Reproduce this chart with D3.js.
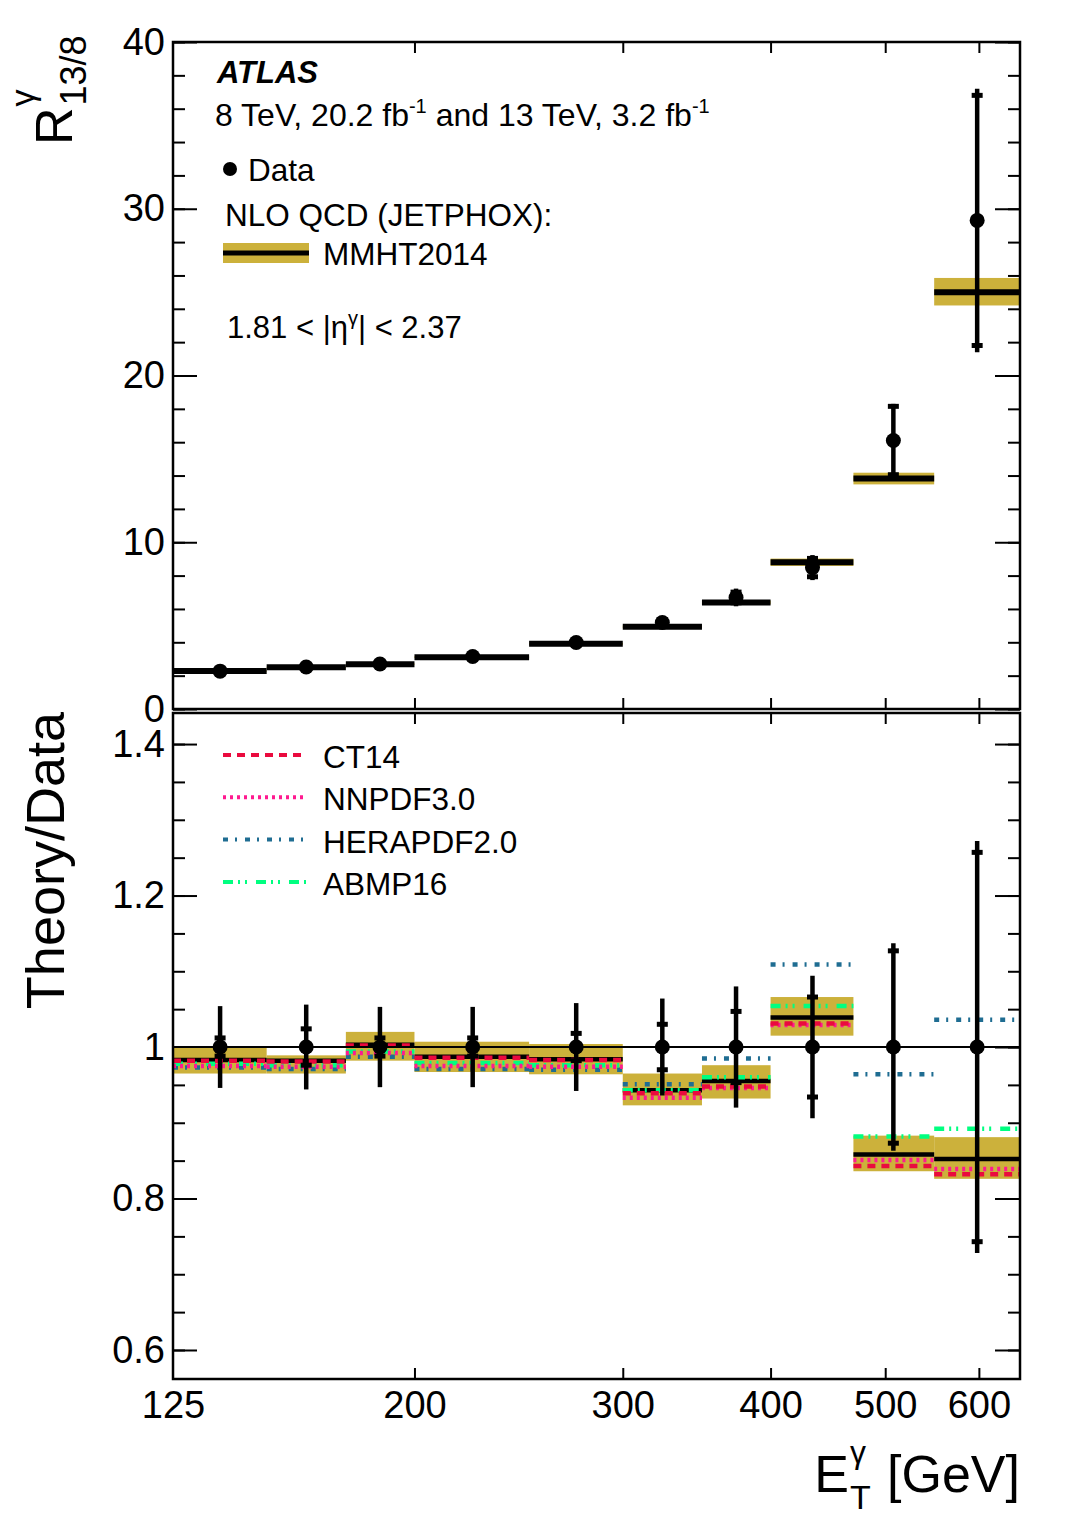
<!DOCTYPE html>
<html>
<head>
<meta charset="utf-8">
<script src="https://cdn.jsdelivr.net/npm/d3@7"></script>
<style>
  body { margin: 0; background: #fff; }
  svg text { font-family: "Liberation Sans", Arial, Helvetica, sans-serif; fill: #000; }
</style>
</head>
<body>
<div id="chart"></div>
<script>
// binning in E_T (GeV) and the points' positions
var etEdges = [125, 150, 175, 200, 250, 300, 350, 400, 470, 550, 650];
var etCentres = [137, 162, 187, 224, 274, 324, 374, 434, 508, 598];
var xLabelValues = [125, 200, 300, 400, 500, 600];
var xTickValues = [200, 300, 400, 500, 600];

// upper panel : R 13/8
var rData = [2.27, 2.52, 2.70, 3.15, 3.99, 5.19, 6.69, 8.48, 16.1, 29.3];
var rTotErr = [0.12, 0.14, 0.14, 0.17, 0.23, 0.33, 0.53, 0.75, 2.2, 7.9];
var rStatErr = [0.03, 0.06, 0.03, 0.04, 0.07, 0.16, 0.32, 0.55, 2.05, 7.5];
var rMmht = [2.28, 2.50, 2.69, 3.11, 3.91, 4.93, 6.39, 8.80, 13.83, 25.0];
var rMmhtLo = [2.24, 2.46, 2.65, 3.06, 3.85, 4.85, 6.28, 8.58, 13.47, 24.2];
var rMmhtHi = [2.32, 2.54, 2.73, 3.16, 3.97, 5.01, 6.50, 9.02, 14.17, 25.85];

// lower panel : theory / data
var dataErrTot = [0.054, 0.056, 0.053, 0.053, 0.058, 0.064, 0.080, 0.094, 0.137, 0.272];
var dataErrStat = [0.012, 0.024, 0.012, 0.012, 0.018, 0.030, 0.047, 0.066, 0.127, 0.257];
var mmhtRatio = [0.983, 0.982, 1.003, 0.987, 0.984, 0.943, 0.955, 1.039, 0.858, 0.852];
var mmhtRatioLo = [0.965, 0.965, 0.982, 0.967, 0.964, 0.923, 0.932, 1.015, 0.836, 0.826];
var mmhtRatioHi = [1.000, 0.989, 1.020, 1.007, 1.004, 0.965, 0.976, 1.066, 0.883, 0.881];
var ct14Ratio = [0.982, 0.981, 1.002, 0.986, 0.983, 0.939, 0.948, 1.031, 0.843, 0.832];
var nnpdfRatio = [0.975, 0.974, 0.992, 0.975, 0.974, 0.933, 0.946, 1.029, 0.851, 0.839];
var heraRatio = [0.973, 0.971, 0.987, 0.971, 0.970, 0.951, 0.985, 1.109, 0.964, 1.036];
var abmpRatio = [0.978, 0.976, 0.994, 0.979, 0.976, 0.943, 0.960, 1.054, 0.882, 0.892];

var topMajor = [0, 10, 20, 30, 40];
var botMajor = [0.6, 0.8, 1, 1.2, 1.4];

var gold = '#ccb13b';
var pdfs = [
  {name: 'CT14', vals: ct14Ratio, color: '#ea0a3e', dash: '8,6'},
  {name: 'NNPDF3.0', vals: nnpdfRatio, color: '#ff1a90', dash: '3,4'},
  {name: 'HERAPDF2.0', vals: heraRatio, color: '#1f6d92', dash: '5,7,2,8'},
  {name: 'ABMP16', vals: abmpRatio, color: '#00ff80', dash: '10,5,2,5,2,9'}
];
// drawing order inside the ratio panel
var drawOrder = [2, 3, 1, 0];

var W = 1075, H = 1536;
var left = 173, right = 1020;
var topPanel = {y0: 42, y1: 709};
var botPanel = {y0: 713, y1: 1379};
var txt = '31.5px';

var svg = d3.select('#chart').append('svg')
  .attr('width', W).attr('height', H)
  .attr('viewBox', [0, 0, W, H]);

var x = d3.scaleLog().domain([125, 650]).range([left, right]);
var yTop = d3.scaleLinear().domain([0, 40]).range([topPanel.y1, topPanel.y0]);
var yBot = d3.scaleLinear().domain([0.5617, 1.441]).range([botPanel.y1, botPanel.y0]);

var bins = d3.range(etCentres.length);

// ---------- axes ----------
function drawAxes(y, panel, major, minor, fmt, xLabels) {
  var g = svg.append('g').attr('class', 'axes');
  g.append('g').attr('transform', 'translate(' + left + ',0)')
    .call(d3.axisLeft(y).tickValues(minor).tickSize(-12).tickFormat(''));
  g.append('g').attr('class', 'ylab').attr('transform', 'translate(' + left + ',0)')
    .call(d3.axisLeft(y).tickValues(major).tickSize(-24).tickPadding(8).tickFormat(fmt));
  g.append('g').attr('transform', 'translate(' + right + ',0)')
    .call(d3.axisRight(y).tickValues(minor).tickSize(-12).tickFormat(''));
  g.append('g').attr('transform', 'translate(' + right + ',0)')
    .call(d3.axisRight(y).tickValues(major).tickSize(-25).tickFormat(''));
  g.append('g').attr('transform', 'translate(0,' + panel.y0 + ')')
    .call(d3.axisTop(x).tickValues(xTickValues).tickSize(-11).tickFormat(''));
  var xb = g.append('g').attr('class', 'xlab').attr('transform', 'translate(0,' + panel.y1 + ')')
    .call(d3.axisBottom(x).tickValues(xLabels ? xLabelValues : xTickValues)
      .tickSize(-11).tickPadding(12).tickFormat(xLabels ? d3.format('d') : ''));
  if (xLabels) {
    xb.selectAll('.tick').filter(function(d) { return d === 125; }).select('line').remove();
  }
  g.selectAll('path.domain').remove();
  g.selectAll('.tick line').style('stroke', '#000').style('stroke-width', '2px');
  g.selectAll('.tick text').style('font-size', '38px').style('fill', '#000')
    .attr('font-family', '"Liberation Sans", Arial, sans-serif');
  g.selectAll('.xlab .tick text').attr('dy', '0.72em');
}

drawAxes(yTop, topPanel, topMajor, d3.range(0, 41, 2), d3.format('d'), false);
drawAxes(yBot, botPanel, botMajor, d3.range(0.6, 1.42, 0.05), function(d) { return String(+d.toFixed(2)); }, true);

// ---------- upper panel ----------
var up = svg.append('g');
up.selectAll('rect.band').data(bins).enter().append('rect')
  .attr('class', 'band')
  .attr('x', function(i) { return x(etEdges[i]); })
  .attr('width', function(i) { return x(etEdges[i + 1]) - x(etEdges[i]); })
  .attr('y', function(i) { return yTop(rMmhtHi[i]); })
  .attr('height', function(i) { return yTop(rMmhtLo[i]) - yTop(rMmhtHi[i]); })
  .style('fill', gold);

up.selectAll('line.mmht').data(bins).enter().append('line')
  .attr('class', 'mmht')
  .attr('x1', function(i) { return x(etEdges[i]); })
  .attr('x2', function(i) { return x(etEdges[i + 1]); })
  .attr('y1', function(i) { return yTop(rMmht[i]); })
  .attr('y2', function(i) { return yTop(rMmht[i]); })
  .style('stroke', '#000').style('stroke-width', '6px');

function drawPoints(g, y, vals, tot, stat) {
  g.selectAll('line.err').data(bins).enter().append('line')
    .attr('class', 'err')
    .attr('x1', function(i) { return x(etCentres[i]); })
    .attr('x2', function(i) { return x(etCentres[i]); })
    .attr('y1', function(i) { return y(vals(i) + tot[i]); })
    .attr('y2', function(i) { return y(vals(i) - tot[i]); })
    .style('stroke', '#000').style('stroke-width', '4.5px');
  [1, -1].forEach(function(s) {
    g.selectAll('line.stat' + s).data(bins).enter().append('line')
      .attr('class', 'stat' + s)
      .attr('x1', function(i) { return x(etCentres[i]) - 5.5; })
      .attr('x2', function(i) { return x(etCentres[i]) + 5.5; })
      .attr('y1', function(i) { return y(vals(i) + s * stat[i]); })
      .attr('y2', function(i) { return y(vals(i) + s * stat[i]); })
      .style('stroke', '#000').style('stroke-width', '5px');
  });
  g.selectAll('circle.pt').data(bins).enter().append('circle')
    .attr('class', 'pt')
    .attr('cx', function(i) { return x(etCentres[i]); })
    .attr('cy', function(i) { return y(vals(i)); })
    .attr('r', 7.5)
    .style('fill', '#000');
}

drawPoints(up, yTop, function(i) { return rData[i]; }, rTotErr, rStatErr);

// ---------- lower panel ----------
var lo = svg.append('g');
lo.selectAll('rect.band').data(bins).enter().append('rect')
  .attr('class', 'band')
  .attr('x', function(i) { return x(etEdges[i]); })
  .attr('width', function(i) { return x(etEdges[i + 1]) - x(etEdges[i]); })
  .attr('y', function(i) { return yBot(mmhtRatioHi[i]); })
  .attr('height', function(i) { return yBot(mmhtRatioLo[i]) - yBot(mmhtRatioHi[i]); })
  .style('fill', gold);

lo.selectAll('line.mmht').data(bins).enter().append('line')
  .attr('class', 'mmht')
  .attr('x1', function(i) { return x(etEdges[i]); })
  .attr('x2', function(i) { return x(etEdges[i + 1]); })
  .attr('y1', function(i) { return yBot(mmhtRatio[i]); })
  .attr('y2', function(i) { return yBot(mmhtRatio[i]); })
  .style('stroke', '#000').style('stroke-width', '4.5px');

drawOrder.forEach(function(k) {
  var p = pdfs[k];
  lo.selectAll('line.pdf' + k).data(bins).enter().append('line')
    .attr('class', 'pdf' + k)
    .attr('x1', function(i) { return x(etEdges[i]); })
    .attr('x2', function(i) { return x(etEdges[i + 1]); })
    .attr('y1', function(i) { return yBot(p.vals[i]); })
    .attr('y2', function(i) { return yBot(p.vals[i]); })
    .style('stroke', p.color).style('stroke-width', '4.5px')
    .style('stroke-dasharray', p.dash);
});

lo.append('line')
  .attr('x1', left).attr('x2', right)
  .attr('y1', yBot(1)).attr('y2', yBot(1))
  .style('stroke', '#000').style('stroke-width', '2px');

drawPoints(lo, yBot, function() { return 1; }, dataErrTot, dataErrStat);

// frames
[topPanel, botPanel].forEach(function(p) {
  svg.append('rect')
    .attr('x', left).attr('y', p.y0)
    .attr('width', right - left).attr('height', p.y1 - p.y0)
    .style('fill', 'none').style('stroke', '#000').style('stroke-width', '2.5px');
});

// ---------- legends and labels ----------
svg.append('text').attr('x', 217).attr('y', 83)
  .style('font-size', '31px').style('font-weight', 'bold').style('font-style', 'italic')
  .text('ATLAS');

var lumi = svg.append('text').attr('x', 215).attr('y', 126).style('font-size', '32px');
lumi.append('tspan').text('8 TeV, 20.2 fb');
lumi.append('tspan').attr('dy', -13).style('font-size', '20px').text('-1');
lumi.append('tspan').attr('dy', 13).text(' and 13 TeV, 3.2 fb');
lumi.append('tspan').attr('dy', -13).style('font-size', '20px').text('-1');

svg.append('circle').attr('cx', 230).attr('cy', 169).attr('r', 7).style('fill', '#000');
svg.append('text').attr('x', 248).attr('y', 181).style('font-size', txt).text('Data');

svg.append('text').attr('x', 225).attr('y', 226).style('font-size', txt).text('NLO QCD (JETPHOX):');
svg.append('rect').attr('x', 223).attr('y', 243).attr('width', 86).attr('height', 20).style('fill', gold);
svg.append('line').attr('x1', 223).attr('x2', 309).attr('y1', 253).attr('y2', 253)
  .style('stroke', '#000').style('stroke-width', '5px');
svg.append('text').attr('x', 323).attr('y', 265).style('font-size', txt).text('MMHT2014');

var eta = svg.append('text').attr('x', 227).attr('y', 338).style('font-size', '31px');
eta.append('tspan').text('1.81 < |η');
eta.append('tspan').attr('dy', -13).style('font-size', '20px').text('γ');
eta.append('tspan').attr('dy', 13).text('| < 2.37');

pdfs.forEach(function(p, k) {
  var yy = 755 + k * 42.3;
  svg.append('line').attr('x1', 223).attr('x2', 307).attr('y1', yy).attr('y2', yy)
    .style('stroke', p.color).style('stroke-width', '4px').style('stroke-dasharray', p.dash);
  svg.append('text').attr('x', 323).attr('y', yy + 13).style('font-size', txt).text(p.name);
});

// y titles
var rt = svg.append('g').attr('transform', 'translate(72,145) rotate(-90)');
var rR = rt.append('text').attr('x', 0).attr('y', 0).style('font-size', '52px').text('R');
var rW = rR.node().getComputedTextLength();
rt.append('text').attr('x', rW + 1).attr('y', -38).style('font-size', '34px').text('γ');
rt.append('text').attr('x', rW + 2).attr('y', 14).style('font-size', '36px').text('13/8');

svg.append('text')
  .attr('transform', 'translate(64,712) rotate(-90)')
  .attr('text-anchor', 'end')
  .style('font-size', '54px')
  .text('Theory/Data');

// x title
var gev = svg.append('text').attr('x', right).attr('y', 1492)
  .attr('text-anchor', 'end').style('font-size', '52px').text('[GeV]');
var gevStart = right - gev.node().getComputedTextLength();
var eText = svg.append('text').attr('y', 1492).style('font-size', '52px').text('E');
var eW = eText.node().getComputedTextLength();
var eX = gevStart - 14 - 24 - eW;
eText.attr('x', eX);
svg.append('text').attr('x', eX + eW + 1).attr('y', 1463).style('font-size', '32px').text('γ');
svg.append('text').attr('x', eX + eW + 1).attr('y', 1509).style('font-size', '34px').text('T');
</script>
</body>
</html>
